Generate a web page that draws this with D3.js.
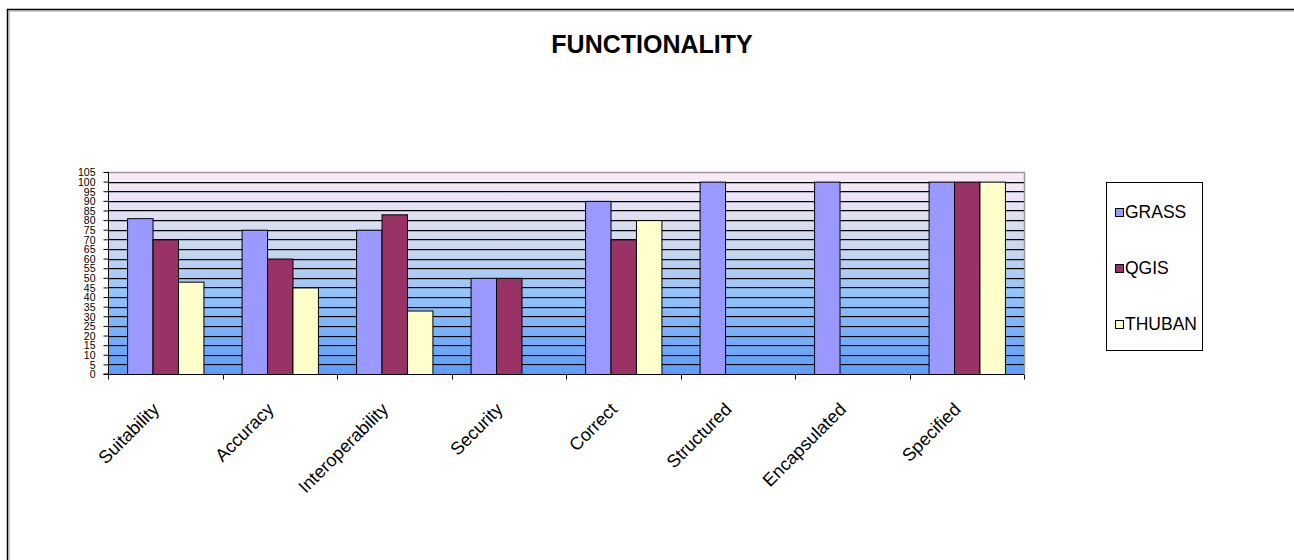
<!DOCTYPE html>
<html>
<head>
<meta charset="utf-8">
<script src="https://cdn.jsdelivr.net/npm/d3@7"></script>
<style>
  body { margin: 0; background: #fff; }
  svg { display: block; font-family: "Liberation Sans", Arial, sans-serif; }
  .title { font-size: 25px; font-weight: bold; text-anchor: middle; }
  .cat { font-size: 18px; }
  .leg { font-size: 17.5px; }
  .axis--y text { font-size: 10.5px; fill: #000; }
  .axis path, .axis line { stroke: #000; }
</style>
</head>
<body>
<svg id="chart" width="1294" height="560"></svg>
<script>
var categories = ["Suitability", "Accuracy", "Interoperability", "Security", "Correct", "Structured", "Encapsulated", "Specified"];
var seriesNames = ["GRASS", "QGIS", "THUBAN"];
var seriesColors = ["#9999ff", "#993366", "#ffffcc"];
var grass  = [81, 75, 75, 50, 90, 100, 100, 100];
var qgis   = [70, 60, 83, 50, 70, 0, 0, 100];
var thuban = [48, 45, 33, 0, 80, 0, 0, 100];
var yTicks = d3.range(0, 106, 5);

var values = [grass, qgis, thuban];

var svg = d3.select("#chart"),
    margin = {top: 172, right: 270, bottom: 186, left: 108},
    width = svg.attr("width") - margin.left - margin.right,
    height = svg.attr("height") - margin.top - margin.bottom;

// outer frame
svg.append("rect")
    .attr("x", 7.5).attr("y", 9.5)
    .attr("width", 1400).attr("height", 700)
    .attr("fill", "none").attr("stroke", "#000").attr("stroke-width", 1.5);
svg.append("rect")
    .attr("x", 9).attr("y", 11)
    .attr("width", 1400).attr("height", 700)
    .attr("fill", "none").attr("stroke", "#999").attr("stroke-width", 1);

svg.append("text")
    .attr("class", "title")
    .attr("x", 652).attr("y", 53)
    .text("FUNCTIONALITY");

var x0 = d3.scaleBand().domain(categories).range([0, width]).padding(0),
    x1 = d3.scaleBand().domain(seriesNames).range([0, x0.bandwidth()]).paddingInner(0).paddingOuter(0.75),
    y = d3.scaleLinear().domain([0, 105]).range([height, 0]),
    z = d3.scaleOrdinal().domain(seriesNames).range(seriesColors);

var defs = svg.append("defs");
var grad = defs.append("linearGradient")
    .attr("id", "bg").attr("x1", 0).attr("y1", 0).attr("x2", 0).attr("y2", 1);
grad.append("stop").attr("offset", "0%").attr("stop-color", "#fcebf8");
grad.append("stop").attr("offset", "40%").attr("stop-color", "#c6d6ec");
grad.append("stop").attr("offset", "60%").attr("stop-color", "#93c4fa");
grad.append("stop").attr("offset", "100%").attr("stop-color", "#5d9cf8");

var g = svg.append("g")
    .attr("transform", "translate(" + margin.left + "," + margin.top + ")");

g.append("rect")
    .attr("width", width).attr("height", height)
    .attr("fill", "url(#bg)");

// gridlines
var grid = g.append("g").attr("class", "grid");
grid.selectAll(".shade")
  .data(yTicks.slice(1, -1))
  .enter().append("line")
    .attr("x1", 0).attr("x2", width)
    .attr("y1", function(d) { return Math.round(y(d)) + 1.5; })
    .attr("y2", function(d) { return Math.round(y(d)) + 1.5; })
    .attr("stroke", "#6a7890").attr("stroke-opacity", 0.5);
grid.selectAll(".gl")
  .data(yTicks.slice(1, -1))
  .enter().append("line")
    .attr("x1", 0).attr("x2", width)
    .attr("y1", function(d) { return Math.round(y(d)) + 0.5; })
    .attr("y2", function(d) { return Math.round(y(d)) + 0.5; })
    .attr("stroke", "#000");

// plot border (top / right)
g.append("path")
    .attr("d", "M0,0.5H" + (width + 0.5) + "V" + height)
    .attr("fill", "none").attr("stroke", "#999").attr("stroke-width", 1.5);

var groups = g.selectAll(".cat-g")
  .data(categories)
  .enter().append("g")
    .attr("transform", function(d) { return "translate(" + x0(d) + ",0)"; });

groups.selectAll("rect")
  .data(function(d, i) {
    return seriesNames.map(function(s, j) { return {key: s, value: values[j][i]}; })
      .filter(function(e) { return e.value > 0; });
  })
  .enter().append("rect")
    .attr("x", function(d) { return x1(d.key) + 0.5; })
    .attr("y", function(d) { return y(d.value) + 0.5; })
    .attr("width", x1.bandwidth())
    .attr("height", function(d) { return height - y(d.value); })
    .attr("fill", function(d) { return z(d.key); })
    .attr("stroke", "#000")
    .attr("stroke-width", 1);

// x axis
var xa = g.append("g")
    .attr("class", "axis axis--x")
    .attr("transform", "translate(0," + (height + 0.5) + ")");
xa.append("line").attr("x1", 0).attr("x2", width).attr("stroke", "#000");
xa.selectAll(".tk")
  .data(d3.range(categories.length + 1))
  .enter().append("line")
    .attr("x1", function(i) { return Math.round(i * x0.step()) + 0.5; })
    .attr("x2", function(i) { return Math.round(i * x0.step()) + 0.5; })
    .attr("y1", 0).attr("y2", 5)
    .attr("stroke", "#000");

xa.selectAll(".cat")
  .data(categories)
  .enter().append("text")
    .attr("class", "cat")
    .attr("text-anchor", "end")
    .attr("transform", function(d) {
      return "translate(" + (x0(d) + x0.bandwidth() / 2 - 5) + ",36) rotate(-45)";
    })
    .text(function(d) { return d; });

// y axis
g.append("g")
    .attr("class", "axis axis--y")
    .attr("transform", "translate(0.5,0)")
    .call(d3.axisLeft(y).tickValues(yTicks).tickSize(5).tickPadding(8))
    .call(function(a) { a.select(".domain").attr("d", "M-5," + height + "H0V0"); })
    .selectAll("text").attr("dy", "0.36em");

// legend
var legend = svg.append("g").attr("transform", "translate(1106,182)");
legend.append("rect")
    .attr("x", 0.5).attr("y", 0.5)
    .attr("width", 96).attr("height", 168)
    .attr("fill", "#fff").attr("stroke", "#000");
var li = legend.selectAll(".li")
  .data(seriesNames)
  .enter().append("g")
    .attr("transform", function(d, i) { return "translate(0," + (30 + i * 56) + ")"; });
li.append("rect")
    .attr("x", 9.5).attr("y", -3.5)
    .attr("width", 8).attr("height", 8)
    .attr("fill", function(d) { return z(d); })
    .attr("stroke", "#000");
li.append("text")
    .attr("class", "leg")
    .attr("x", 19).attr("y", 6)
    .text(function(d) { return d; });
</script>
</body>
</html>
